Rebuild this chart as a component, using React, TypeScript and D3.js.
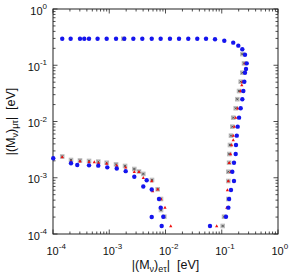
import React from "react";
import * as d3 from "d3";

const W = 289;
const H = 275;

const xTickExps = [-4, -3, -2, -1, 0];
const yTickExps = [-4, -3, -2, -1, 0];

const blueData: [number, number][] = [
  [1.46e-4, 0.296], [2.06e-4, 0.296], [3.02e-4, 0.296], [3.6e-4, 0.296], [4.37e-4, 0.296],
  [6.2e-4, 0.296], [9.0e-4, 0.296], [1.32e-3, 0.296], [1.85e-3, 0.296], [2.68e-3, 0.296],
  [3.87e-3, 0.296], [5.69e-3, 0.296], [8.2e-3, 0.296], [1.2e-2, 0.296], [1.74e-2, 0.296],
  [2.54e-2, 0.296], [3.67e-2, 0.296], [5.25e-2, 0.296], [7.59e-2, 0.289], [0.111, 0.273],
  [0.16, 0.252], [0.197, 0.223], [0.232, 0.192], [0.259, 0.154],
  [0.278, 0.108], [0.27, 0.0858], [0.259, 0.0737], [0.252, 0.051], [0.242, 0.0348],
  [0.232, 0.0249], [0.217, 0.0172], [0.203, 0.0117], [0.192, 0.0081], [0.185, 0.0056],
  [0.179, 0.00382], [0.177, 0.00264], [0.165, 0.00185], [0.154, 0.00128], [0.165, 8.75e-4],
  [0.146, 6.05e-4], [0.135, 4.19e-4], [0.131, 2.94e-4], [0.119, 2.03e-4], [0.0618, 1.39e-4],
  [1.01e-4, 2.22e-3], [2.09e-4, 1.81e-3], [2.7e-4, 1.69e-3], [4.37e-4, 1.66e-3], [6.38e-4, 1.64e-3],
  [9.23e-4, 1.53e-3], [1.36e-3, 1.46e-3], [1.96e-3, 1.31e-3], [2.79e-3, 1.04e-3], [4.03e-3, 6.99e-4],
  [4.63e-3, 9.0e-4], [5.69e-3, 6.18e-4], [7.66e-3, 4.19e-4], [8.22e-3, 2.94e-4], [5.69e-3, 2.0e-4],
  [9.14e-3, 2.03e-4], [8.55e-3, 1.39e-4],
];

const redData: [number, number][] = [
  [3.02e-4, 0.296], [4.2e-4, 0.296],
  [1.46e-4, 2.34e-3], [2.09e-4, 1.94e-3], [3.02e-4, 1.96e-3], [4.37e-4, 1.91e-3], [5.42e-4, 1.91e-3],
  [6.45e-4, 1.84e-3], [9.0e-4, 1.79e-3], [1.36e-3, 1.65e-3], [1.96e-3, 1.53e-3], [2.79e-3, 1.28e-3],
  [3.38e-3, 1.28e-3], [4.03e-3, 1.0e-3], [5.69e-3, 8.75e-4], [5.92e-3, 5.81e-4], [7.26e-3, 6.24e-4],
  [8.32e-3, 4.19e-4], [9.8e-3, 2.96e-4], [1.24e-2, 1.39e-4],
  [0.0813, 1.39e-4], [0.1225, 2.94e-4], [0.131, 8.75e-4], [0.126, 6.05e-4], [0.144, 1.28e-3],
  [0.136, 1.85e-3], [0.144, 2.64e-3], [0.15, 3.82e-3], [0.16, 5.6e-3], [0.16, 4.69e-3],
  [0.167, 8.1e-3], [0.177, 1.17e-2], [0.192, 1.72e-2], [0.217, 3.48e-2], [0.232, 0.051],
  [0.227, 0.0446], [0.259, 0.108],
];

const grayData: [number, number][] = [
  [1.78e-3, 0.296],
  [1.46e-4, 2.39e-3], [2.09e-4, 2.07e-3], [3.02e-4, 2.03e-3], [4.37e-4, 1.99e-3], [6.38e-4, 1.94e-3],
  [9.0e-4, 1.85e-3], [1.32e-3, 1.73e-3], [1.91e-3, 1.62e-3], [2.79e-3, 1.43e-3], [3.38e-3, 1.29e-3],
  [4.03e-3, 1.17e-3], [5.75e-3, 9.12e-4], [7.26e-3, 6.24e-4], [8.32e-3, 4.19e-4], [8.32e-3, 2.67e-4],
  [9.53e-3, 2.03e-4],
  [0.104, 1.39e-4], [0.11, 2.03e-4], [0.131, 4.19e-4], [0.131, 8.75e-4], [0.131, 1.28e-3],
  [0.135, 1.85e-3], [0.136, 2.64e-3], [0.14, 3.82e-3], [0.146, 5.6e-3], [0.154, 8.1e-3],
  [0.16, 1.17e-2], [0.177, 1.72e-2], [0.189, 2.49e-2], [0.203, 3.48e-2], [0.217, 0.051],
  [0.232, 0.0737], [0.249, 0.108], [0.232, 0.158],
];

const margin = { left: 53, top: 9, right: 11, bottom: 41 };

export default function App() {
  const x = d3.scaleLog().domain([1e-4, 1]).range([margin.left, W - margin.right]);
  const y = d3.scaleLog().domain([1e-4, 1]).range([H - margin.bottom, margin.top]);
  const [x0, x1] = x.range();
  const [y0, y1] = y.range();

  const minorVals: number[] = [];
  for (let e = -4; e < 0; e++) {
    for (let m = 2; m <= 9; m++) minorVals.push(m * Math.pow(10, e));
  }
  const majorVals = xTickExps.map((e) => Math.pow(10, e));
  const font = "'Liberation Sans', Arial, sans-serif";
  const majorLen = 4.5;
  const minorLen = 2.5;
  const tickColor = "#222";
  const tf = 11;
  const sf = 8;
  const lf = 12.5;
  const lsf = 9;

  return (
    <svg
      width={W}
      height={H}
      style={{ position: "fixed", left: 0, top: 0, background: "#fff" }}
      fontFamily={font}
    >
      <g stroke={tickColor} strokeWidth={0.8}>
        {majorVals.map((v, i) => (
          <g key={"mj" + i}>
            <line x1={x(v)} x2={x(v)} y1={y0} y2={y0 - majorLen} />
            <line x1={x(v)} x2={x(v)} y1={y1} y2={y1 + majorLen} />
            <line x1={x0} x2={x0 + majorLen} y1={y(v)} y2={y(v)} />
            <line x1={x1} x2={x1 - majorLen} y1={y(v)} y2={y(v)} />
          </g>
        ))}
        {minorVals.map((v, i) => (
          <g key={"mn" + i}>
            <line x1={x(v)} x2={x(v)} y1={y0} y2={y0 - minorLen} />
            <line x1={x(v)} x2={x(v)} y1={y1} y2={y1 + minorLen} />
            <line x1={x0} x2={x0 + minorLen} y1={y(v)} y2={y(v)} />
            <line x1={x1} x2={x1 - minorLen} y1={y(v)} y2={y(v)} />
          </g>
        ))}
      </g>
      <rect x={x0} y={y1} width={x1 - x0} height={y0 - y1} fill="none" stroke="#222" strokeWidth={1} />

      <g>
        {grayData.map(([a, b], i) => (
          <g key={"g" + i} transform={`translate(${x(a)},${y(b)})`}>
            <rect x={-2.3} y={-2.3} width={4.6} height={4.6} fill="#bdbdbd" />
            <path d="M-1,-1L1,1M-1,1L1,-1" stroke="#444" strokeWidth={0.8} />
          </g>
        ))}
        {redData.map(([a, b], i) => (
          <path
            key={"r" + i}
            transform={`translate(${x(a)},${y(b)})`}
            d="M0,-1.7L1.6,1.2L-1.6,1.2Z"
            fill="#ee1111"
          />
        ))}
        {blueData.map(([a, b], i) => (
          <circle key={"b" + i} cx={x(a)} cy={y(b)} r={2.2} fill="#1515ee" />
        ))}
      </g>

      {yTickExps.map((e) => (
        <text
          key={"yl" + e}
          x={47}
          y={y(Math.pow(10, e)) + 5.5}
          textAnchor="end"
          fontSize={tf}
          fill="#111"
        >
          10
          <tspan dy={-5.5} fontSize={sf}>
            {e === 0 ? "0" : `-${-e}`}
          </tspan>
        </text>
      ))}
      {xTickExps.map((e) => (
        <text
          key={"xl" + e}
          x={x(Math.pow(10, e)) - 6.5}
          y={254.5}
          textAnchor="start"
          fontSize={tf}
          fill="#111"
        >
          10
          <tspan dy={-5.5} fontSize={sf}>
            {e === 0 ? "0" : `-${-e}`}
          </tspan>
        </text>
      ))}

      <text
        x={(x0 + x1) / 2}
        y={269}
        textAnchor="middle"
        fontSize={lf}
        fill="#111"
        style={{ whiteSpace: "pre" }}
      >
        |(M
        <tspan dy={3} fontSize={lsf}>ν</tspan>
        <tspan dy={-3}>)</tspan>
        <tspan dy={3} fontSize={lsf}>eτ</tspan>
        <tspan dy={-3}>{"|  [eV]"}</tspan>
      </text>
      <text
        transform={`translate(15,${(y0 + y1) / 2}) rotate(-90)`}
        textAnchor="middle"
        fontSize={lf}
        fill="#111"
        style={{ whiteSpace: "pre" }}
      >
        |(M
        <tspan dy={3} fontSize={lsf}>ν</tspan>
        <tspan dy={-3}>)</tspan>
        <tspan dy={3} fontSize={lsf}>μτ</tspan>
        <tspan dy={-3}>{"|  [eV]"}</tspan>
      </text>
    </svg>
  );
}
